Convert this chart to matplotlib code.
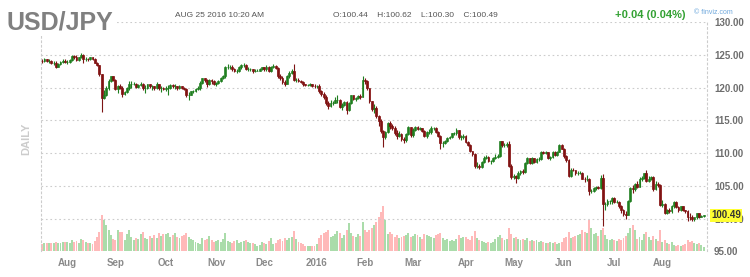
import matplotlib
matplotlib.use("Agg")
import matplotlib.pyplot as plt
from matplotlib.ticker import FormatStrFormatter
import numpy as np
import pandas as pd

plt.rcParams["font.family"] = ["Liberation Sans", "DejaVu Sans"]

# daily bars, one per weekday
dates = pd.bdate_range("2015-07-17", "2016-08-25")

opens = [
    124.1, 124.0, 124.3, 124.0, 124.0, 123.8, 123.8, 123.2, 123.6, 123.9, 124.1,  # Jul 15
    123.9, 123.9, 124.2, 124.8, 124.6, 124.2, 124.6, 125.0, 124.3, 124.4, 124.3,
    124.6, 124.4, 123.8, 123.4, 122.0, 118.4, 118.9, 119.9, 121.0, 121.7,  # Aug
    121.2, 119.8, 120.2, 120.0, 119.0, 119.3, 119.9, 120.6, 120.6, 120.6, 120.1,
    120.4, 120.6, 120.0, 120.0, 120.5, 120.2, 120.2, 119.9, 120.5, 119.9, 119.9,  # Sep
    119.8, 119.9, 119.9, 120.4, 120.2, 120.2, 119.9, 120.2, 120.0, 119.8, 118.8,
    118.9, 119.4, 119.5, 119.8, 119.9, 120.7, 121.4, 121.1, 120.5, 121.1, 121.0,  # Oct
    120.6, 120.7, 121.0, 121.5, 121.7, 123.2, 123.2, 123.2, 122.9, 122.6, 122.6,
    123.1, 123.4, 123.5, 122.8, 122.8, 122.8, 122.5, 122.6, 122.6, 122.8,  # Nov
    123.1, 122.8, 123.2, 122.6, 123.2, 123.3, 123.0, 121.7, 121.5, 120.9, 120.6, 121.7,
    122.2, 122.6, 121.2, 121.2, 121.0, 120.9, 120.5, 120.4, 120.4, 120.5, 120.3,  # Dec
    120.2, 120.2, 119.4, 119.0, 118.5, 117.6, 117.2, 117.7, 117.7, 118.1, 118.1,
    117.0, 117.4, 117.8, 116.6, 117.6, 118.8, 118.3, 118.4, 118.7, 118.6,  # Jan 16
    121.1, 121.0, 119.9, 117.9, 116.8, 116.9, 115.6, 114.9, 113.3, 112.4, 113.2,
    114.6, 114.1, 113.9, 113.0, 112.6, 112.9, 112.1, 112.0, 112.9, 114.0,  # Feb
    112.7, 113.6, 114.0, 113.7, 113.8, 113.4, 112.6, 113.2, 113.2, 113.8, 113.8, 113.2,
    112.6, 111.5, 111.6, 111.9, 112.3, 112.4, 113.0, 113.0, 113.5, 112.4, 112.4,  # Mar
    112.6, 111.7, 111.3, 110.3, 109.8, 108.1, 108.1, 107.9, 108.6, 109.3, 109.4,
    108.8, 108.8, 109.2, 109.4, 109.5, 111.8, 111.2, 111.2, 111.4, 108.1,  # Apr
    106.3, 106.5, 106.2, 107.0, 107.3, 107.1, 108.5, 109.2, 108.5, 109.2, 108.6,
    109.1, 109.1, 110.2, 110.0, 110.1, 109.2, 109.4, 110.2, 109.7, 110.2, 111.3,  # May
    110.7, 109.5, 108.9, 106.5, 107.5, 107.4, 106.9, 107.0, 107.0, 106.1, 106.0,
    106.0, 104.2, 104.2, 104.7, 104.8, 104.7, 106.2, 102.2, 102.2, 102.7, 102.7,  # Jun
    103.2, 102.6, 102.6, 102.0, 101.3, 100.7, 100.6, 102.7, 104.7, 104.5, 105.3,
    104.9, 106.1, 106.2, 106.9, 105.8, 106.1, 106.3, 104.6, 105.3, 105.2,  # Jul
    102.1, 102.3, 100.8, 101.3, 101.2, 101.9, 102.5, 101.8, 101.3, 101.9,
    101.3, 101.2, 100.3, 100.2, 99.9, 100.2, 100.8, 100.3, 100.44,  # Aug
]

highs = [
    124.4, 124.5, 124.4, 124.3, 124.2, 124.0, 124.0, 123.8, 124.1, 124.3, 124.3,
    124.2, 124.4, 125.0, 125.0, 124.9, 124.7, 125.3, 125.1, 124.6, 124.5, 124.7,
    124.7, 124.5, 123.9, 123.5, 122.1, 119.6, 120.2, 121.3, 121.8, 121.8,
    121.3, 120.4, 120.5, 120.2, 119.5, 120.1, 121.0, 121.0, 120.9, 120.7, 120.5,
    120.9, 120.7, 120.4, 120.6, 120.6, 120.4, 120.3, 120.8, 120.5, 120.2, 120.1,
    120.2, 120.4, 120.6, 120.6, 120.5, 120.3, 120.4, 120.3, 120.1, 119.9, 119.3,
    119.5, 119.7, 120.0, 120.2, 121.0, 121.5, 121.5, 121.3, 121.3, 121.3, 121.2,
    120.9, 121.2, 121.6, 121.9, 123.3, 123.6, 123.4, 123.4, 123.0, 122.9, 123.3,
    123.6, 123.8, 123.6, 123.1, 123.0, 122.9, 122.8, 122.8, 123.0, 123.2,
    123.2, 123.4, 123.3, 123.3, 123.6, 123.4, 123.1, 122.0, 121.8, 121.1, 121.9, 122.5,
    122.8, 123.6, 121.5, 121.4, 121.2, 121.0, 120.6, 120.6, 120.7, 120.6, 120.5,
    120.4, 120.6, 119.6, 119.3, 118.8, 118.0, 118.1, 118.0, 118.5, 118.8, 118.3,
    117.7, 117.9, 118.0, 117.8, 118.9, 118.9, 118.6, 118.8, 119.0, 121.7,
    121.5, 121.1, 120.0, 118.0, 117.5, 117.2, 115.8, 115.2, 113.5, 113.4, 114.8,
    114.9, 114.5, 114.2, 113.5, 113.3, 113.0, 112.4, 113.0, 114.2, 114.0,
    113.9, 114.2, 114.2, 114.0, 113.9, 113.5, 113.4, 113.7, 114.1, 114.0, 114.0, 113.4,
    112.7, 111.8, 112.0, 112.5, 112.6, 113.1, 113.2, 113.8, 113.6, 112.8, 112.9,
    112.7, 111.9, 111.4, 110.4, 110.0, 108.7, 108.4, 108.8, 109.5, 109.7, 109.6,
    109.0, 109.4, 109.8, 109.9, 111.9, 111.9, 111.5, 111.7, 111.9, 108.3,
    106.8, 106.7, 107.2, 107.5, 107.6, 108.7, 109.4, 109.3, 109.4, 109.3, 109.2,
    109.4, 110.3, 110.4, 110.3, 110.2, 109.6, 110.4, 110.3, 110.3, 111.4, 111.4,
    110.8, 109.7, 109.1, 107.7, 107.7, 107.5, 107.2, 107.2, 107.1, 106.4, 106.7,
    106.2, 104.6, 104.9, 105.0, 105.0, 106.6, 106.8, 102.6, 103.0, 102.9, 103.3,
    103.3, 102.8, 102.7, 102.1, 101.5, 101.2, 102.9, 104.8, 105.2, 105.5, 105.7,
    106.3, 106.5, 107.0, 107.5, 106.5, 106.5, 106.5, 105.7, 105.6, 105.3,
    102.8, 102.4, 101.5, 101.6, 102.1, 102.7, 102.7, 101.9, 102.0, 101.9,
    101.4, 101.3, 100.8, 100.5, 100.3, 100.9, 100.8, 100.6, 100.62,
]

lows = [
    123.8, 123.9, 123.9, 123.8, 123.6, 123.5, 123.0, 123.1, 123.5, 123.8, 123.8,
    123.6, 123.8, 124.1, 124.4, 124.1, 124.1, 124.5, 123.8, 124.1, 124.1, 124.2,
    124.2, 123.7, 123.3, 121.8, 116.2, 118.2, 118.7, 119.7, 120.8, 121.0,
    119.6, 119.2, 119.8, 118.6, 118.9, 119.2, 119.7, 120.0, 120.4, 119.9, 119.9,
    120.2, 119.7, 119.2, 119.8, 120.0, 119.6, 119.7, 119.8, 119.7, 119.3, 119.6,
    119.5, 118.9, 119.8, 120.0, 119.8, 119.6, 119.8, 119.8, 119.6, 118.6, 118.1,
    118.8, 119.2, 119.3, 119.6, 119.7, 120.6, 120.9, 120.1, 120.4, 120.6, 120.4,
    120.3, 120.6, 120.8, 121.3, 121.5, 122.9, 122.9, 122.6, 122.4, 122.2, 122.4,
    122.9, 123.2, 122.7, 122.6, 122.6, 122.2, 122.4, 122.5, 122.5, 122.7,
    122.6, 122.6, 122.4, 122.4, 123.0, 122.8, 121.5, 121.1, 120.6, 120.3, 120.5, 121.5,
    122.0, 121.0, 120.9, 120.8, 120.7, 120.3, 120.2, 120.2, 120.2, 120.1, 119.9,
    120.0, 119.1, 118.7, 118.2, 117.3, 116.7, 117.1, 117.3, 117.6, 117.6, 116.9,
    116.6, 117.2, 116.0, 116.5, 117.5, 118.1, 117.9, 118.2, 118.3, 118.5,
    120.6, 119.6, 117.6, 116.5, 116.1, 115.3, 114.2, 113.0, 111.0, 112.1, 113.0,
    113.7, 113.6, 112.8, 112.2, 112.4, 111.9, 111.6, 111.7, 112.8, 112.5,
    112.5, 113.4, 113.5, 113.5, 113.2, 112.4, 112.3, 112.9, 112.9, 113.5, 113.0, 112.4,
    110.7, 111.0, 111.4, 111.7, 112.1, 112.3, 112.8, 112.8, 112.2, 112.0, 112.2,
    111.5, 111.1, 110.1, 109.5, 107.7, 107.8, 107.6, 107.8, 108.5, 109.1, 108.7,
    108.3, 108.7, 109.1, 109.2, 109.4, 111.0, 110.9, 110.9, 107.9, 106.1,
    106.1, 105.5, 106.0, 106.7, 106.8, 107.0, 108.4, 108.3, 108.4, 108.5, 108.5,
    108.8, 109.0, 109.8, 109.8, 109.1, 109.0, 109.2, 109.6, 109.6, 110.1, 110.6,
    109.3, 108.7, 106.4, 106.3, 107.2, 106.6, 106.6, 106.8, 106.0, 105.6, 105.7,
    103.6, 103.9, 104.1, 104.4, 104.5, 104.6, 98.9, 101.4, 101.9, 102.2, 102.3,
    102.4, 102.4, 101.7, 100.9, 100.4, 99.9, 100.5, 102.6, 103.9, 104.3, 104.7,
    104.8, 105.8, 106.0, 105.6, 105.6, 105.9, 104.2, 104.4, 104.8, 102.0,
    101.8, 100.7, 100.7, 100.9, 100.9, 101.7, 101.6, 101.0, 101.1, 101.2,
    100.9, 99.6, 99.8, 99.6, 99.7, 100.0, 100.1, 100.2, 100.30,
]

closes = [
    124.0, 124.3, 124.0, 124.0, 123.8, 123.8, 123.2, 123.6, 123.9, 124.1, 123.9,
    123.9, 124.2, 124.8, 124.6, 124.2, 124.6, 125.0, 124.3, 124.4, 124.3, 124.6,
    124.4, 123.8, 123.4, 122.0, 118.4, 118.9, 119.9, 121.0, 121.7, 121.2,
    119.8, 120.2, 120.0, 119.0, 119.3, 119.9, 120.6, 120.6, 120.6, 120.1, 120.4,
    120.6, 120.0, 120.0, 120.5, 120.2, 120.2, 119.9, 120.5, 119.9, 119.9, 119.8,
    119.9, 119.9, 120.4, 120.2, 120.2, 119.9, 120.2, 120.0, 119.8, 118.8, 118.9,
    119.4, 119.5, 119.8, 119.9, 120.7, 121.4, 121.1, 120.5, 121.1, 121.0, 120.6,
    120.7, 121.0, 121.5, 121.7, 123.2, 123.2, 123.2, 122.9, 122.6, 122.6, 123.1,
    123.4, 123.5, 122.8, 122.8, 122.8, 122.5, 122.6, 122.6, 122.8, 123.1,
    122.8, 123.2, 122.6, 123.2, 123.3, 123.0, 121.7, 121.5, 120.9, 120.6, 121.7, 122.2,
    122.6, 121.2, 121.2, 121.0, 120.9, 120.5, 120.4, 120.4, 120.5, 120.3, 120.2,
    120.2, 119.4, 119.0, 118.5, 117.6, 117.2, 117.7, 117.7, 118.1, 118.1, 117.0,
    117.4, 117.8, 116.6, 117.6, 118.8, 118.3, 118.4, 118.7, 118.6, 121.1,
    121.0, 119.9, 117.9, 116.8, 116.9, 115.6, 114.9, 113.3, 112.4, 113.2, 114.6,
    114.1, 113.9, 113.0, 112.6, 112.9, 112.1, 112.0, 112.9, 114.0, 112.7,
    113.6, 114.0, 113.7, 113.8, 113.4, 112.6, 113.2, 113.2, 113.8, 113.8, 113.2, 112.6,
    111.5, 111.6, 111.9, 112.3, 112.4, 113.0, 113.0, 113.5, 112.4, 112.4, 112.6,
    111.7, 111.3, 110.3, 109.8, 108.1, 108.1, 107.9, 108.6, 109.3, 109.4, 108.8,
    108.8, 109.2, 109.4, 109.5, 111.8, 111.2, 111.2, 111.4, 108.1, 106.3,
    106.5, 106.2, 107.0, 107.3, 107.1, 108.5, 109.2, 108.5, 109.2, 108.6, 109.1,
    109.1, 110.2, 110.0, 110.1, 109.2, 109.4, 110.2, 109.7, 110.2, 111.3, 110.7,
    109.5, 108.9, 106.5, 107.5, 107.4, 106.9, 107.0, 107.0, 106.1, 106.0, 106.0,
    104.2, 104.2, 104.7, 104.8, 104.7, 106.2, 102.2, 102.2, 102.7, 102.7, 103.2,
    102.6, 102.6, 102.0, 101.3, 100.7, 100.6, 102.7, 104.7, 104.5, 105.3, 104.9,
    106.1, 106.2, 106.9, 105.8, 106.1, 106.3, 104.6, 105.3, 105.2, 102.1,
    102.3, 100.8, 101.3, 101.2, 101.9, 102.5, 101.8, 101.3, 101.9, 101.3,
    101.2, 100.3, 100.2, 99.9, 100.2, 100.8, 100.3, 100.44, 100.49,
]

volumes = [
    24, 27, 25, 27, 27, 25, 30, 27, 27, 30, 30,
    30, 27, 36, 30, 33, 27, 39, 36, 30, 27, 27, 24, 33, 45, 60, 111, 96, 81, 66, 51, 39,
    36, 66, 60, 60, 36, 54, 66, 45, 36, 42, 39, 54, 60, 42, 39, 48, 42, 51, 42, 57, 48, 54,
    54, 57, 45, 51, 57, 45, 42, 48, 51, 57, 45, 39, 36, 30, 27, 24, 42, 36, 39, 48, 36, 30,
    33, 36, 30, 39, 57, 33, 30, 27, 33, 36, 27, 30, 33, 36, 30, 27, 27, 24, 18, 21, 30,
    27, 24, 33, 42, 24, 27, 36, 39, 33, 42, 36, 42, 45, 63, 39, 30, 27, 24, 18, 18, 18, 15, 18,
    24, 42, 51, 57, 60, 66, 45, 48, 54, 63, 57, 42, 51, 66, 87, 57, 48, 45, 54, 48, 90,
    66, 60, 66, 72, 81, 90, 105, 120, 138, 96, 54, 60, 54, 45, 51, 42, 45, 48, 51, 57, 45,
    48, 54, 51, 45, 39, 54, 51, 48, 45, 42, 51, 54, 57, 42, 36, 39, 33, 36, 33, 39, 51, 42, 45,
    45, 39, 36, 48, 63, 42, 36, 33, 30, 27, 30, 27, 30, 39, 45, 51, 42, 36, 39, 72, 54,
    42, 45, 39, 36, 39, 36, 42, 33, 36, 33, 36, 30, 33, 30, 27, 27, 30, 27, 30, 24, 27, 30,
    42, 45, 60, 42, 45, 48, 51, 54, 66, 60, 57, 96, 72, 54, 57, 48, 66, 72, 51, 39, 36, 39,
    36, 33, 39, 36, 42, 48, 57, 72, 81, 66, 39, 45, 36, 54, 60, 45, 36, 48, 39, 33, 66,
    30, 36, 27, 24, 30, 21, 18, 21, 18, 21, 24, 36, 30, 33, 27, 24, 27, 21, 12,
]

price_ticks = [95, 100, 105, 110, 115, 120, 125, 130]

o, h, l, c = (np.array(a) for a in (opens, highs, lows, closes))
idx = np.arange(len(c))
up = c >= o

fig = plt.figure(figsize=(7.5, 2.77), dpi=100)
vax = fig.add_axes([0.0547, 0.0921, 0.888, 0.8285])
pax = vax.twinx()

# volume underneath
vax.bar(idx, volumes, width=0.85, linewidth=0,
        color=np.where(up, "#aadcaa", "#ffb9b9"))
vax.set_ylim(0, max(volumes) * 5)
vax.set_yticks([])
vax.set_xlim(-0.5, len(c) + 0.5)

# candles
pax.vlines(idx, l, h, colors=np.where(up, "#1f7f1f", "#7d1414"), linewidth=0.8)
pax.bar(idx, np.abs(c - o), bottom=np.minimum(o, c), width=0.8,
        color=np.where(up, "#2db52d", "#b80000"),
        edgecolor=np.where(up, "#1a6e1a", "#6e0000"), linewidth=0.45)
pax.set_ylim(95, 130)
pax.set_yticks(price_ticks)
pax.yaxis.set_major_formatter(FormatStrFormatter("%.2f"))
pax.tick_params(axis="y", length=0, pad=5, labelsize=7, labelcolor="#6e6e6e")
for lab in pax.get_yticklabels():
    lab.set_fontweight("bold")

# month ticks at the first bar of each month
months = pd.Series(dates.month)
starts = np.flatnonzero(months.diff().fillna(0).to_numpy() != 0)
labels = ["2016" if dates[i].month == 1 else dates[i].strftime("%b") for i in starts]
vax.set_xticks(starts)
vax.set_xticklabels(labels, fontweight="bold")
vax.tick_params(axis="x", length=0, pad=5, labelsize=7, labelcolor="#8a8a8a")

pax.set_axisbelow(True)
pax.grid(True, linestyle=(0, (1.5, 2.5)), color="#cccccc", linewidth=0.8)
for ax in (vax, pax):
    for side in ("top", "bottom"):
        ax.spines[side].set_visible(False)
vax.spines["left"].set_visible(False)
vax.spines["right"].set_visible(False)
for side in ("left", "right"):
    pax.spines[side].set_linestyle((0, (1.5, 2.5)))
    pax.spines[side].set_color("#cccccc")
    pax.spines[side].set_linewidth(0.8)

# last price tag, drawn over the 100.00 label as in the original
pax.text(1.006, c[-1], f"{c[-1]:.2f}", transform=pax.get_yaxis_transform(),
         ha="left", va="center", fontsize=7, fontweight="bold", color="#333333",
         bbox=dict(boxstyle="square,pad=0.15", fc="#ffff33", ec="none"), zorder=10)

# header
fig.text(0.009, 0.895, "USD/JPY", fontsize=18, fontweight="bold", color="#808080",
         va="baseline", bbox=dict(fc="white", ec="none", pad=1))
fig.text(0.233, 0.938, "AUG 25 2016 10:20 AM", fontsize=6, color="#555555")
fig.text(0.444, 0.938, "O:100.44    H:100.62    L:100.30    C:100.49", fontsize=6,
         color="#555555")
fig.text(0.82, 0.936, "+0.04 (0.04%)", fontsize=8, fontweight="bold", color="#33a133")
fig.text(0.925, 0.948, "\u00a9 finviz.com", fontsize=5, color="#6fa8dc")
fig.text(26 / 750, 0.5, "DAILY", rotation=90, ha="center", va="center",
         fontsize=8, fontweight="bold", color="#cccccc")

fig.savefig("out.png", dpi=100)
